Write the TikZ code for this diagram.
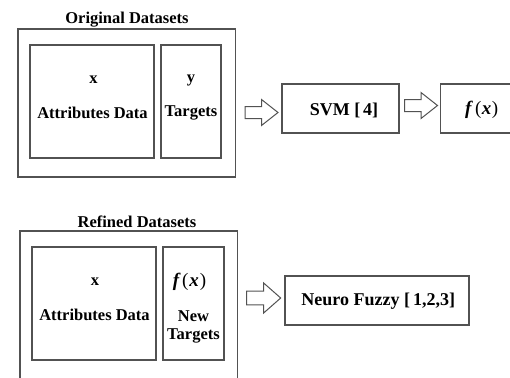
\documentclass[tikz,border=0pt]{standalone}
\usepackage{fontspec}
\setmainfont{Liberation Serif}
\begin{document}
\begin{tikzpicture}[x=1pt,y=-1pt,
  boxline/.style={draw=black!68,line width=1.3pt},
  frame/.style={boxline,rectangle,inner sep=0pt,fill=white},
  lbl/.style={inner sep=0pt,font=\fontsize{16.5}{18}\selectfont\bfseries},
  blbl/.style={inner sep=0pt,font=\fontsize{18}{20}\selectfont\bfseries},
  barrow/.pic={\draw[draw=black!68,line width=1pt,fill=white,line join=miter]
     (-16.5,-6) -- (0,-6) -- (0,-13) -- (16.5,0) -- (0,13) -- (0,6) -- (-16.5,6) -- cycle;}
]
\useasboundingbox (0,0) rectangle (510,377);
\clip (0,0) rectangle (510,377);
% ---------- top ----------
\node[lbl] (ttl1) at (127,20) {Original Datasets};
\node[frame,minimum width=217.5pt,minimum height=148pt] (out1) at (126.75,103) {};
\node[frame,minimum width=124pt,minimum height=113pt] (attr1) at (92,101.5) {};
\node[frame,minimum width=60pt,minimum height=113pt] (tgt1) at (191,101.5) {};
\node[lbl] (x1) at (93.5,80) {x};
\node[lbl] (ad1) at (92.5,113) {Attributes Data};
\node[lbl] (y1) at (191,80) {y};
\node[lbl] (tg1) at (191,113) {Targets};
\pic (ar1) at (261.5,112.5) {barrow};
\node[frame,minimum width=117pt,minimum height=49pt] (svm) at (340.5,108.5) {};
\node[blbl] (svmt) at (344,110) {SVM [\,4]};
\pic (ar2) at (421,105.5) {barrow};
\node[frame,minimum width=80pt,minimum height=49pt] (fx) at (480.7,108.5) {};
\node[blbl] (fxt) at (481.7,110) {\fontsize{19}{21}\selectfont\textit{f}\kern2pt\textmd{(}\kern0.5pt\textit{x}\kern0.5pt\textmd{)}};
% ---------- bottom ----------
\node[lbl] (ttl2) at (137,222) {Refined Datasets};
\node[frame,minimum width=217.7pt,minimum height=180pt] (out2) at (128.85,321) {};
\node[frame,minimum width=124pt,minimum height=113pt] (attr2) at (94,303.5) {};
\node[frame,minimum width=61pt,minimum height=113pt] (tgt2) at (193.5,303.5) {};
\node[lbl] (x2) at (95,282) {x};
\node[lbl] (ad2) at (94.5,315) {Attributes Data};
\node[lbl] (fx2) at (189.5,282) {\fontsize{19}{21}\selectfont\textit{f}\kern1.5pt\textmd{(}\kern0.8pt\textit{x}\kern1pt\textmd{)}};
\node[lbl] (nw2) at (193.5,316) {New};
\node[lbl] (tg2) at (193.5,336) {Targets};
\pic[yscale=1.15,xscale=1.03] (ar3) at (263.7,298) {barrow};
\node[frame,minimum width=184pt,minimum height=49pt] (nf) at (377,300.5) {};
\node[blbl] (nft) at (378.3,301.5) {Neuro Fuzzy [\,1,2,3]};
\end{tikzpicture}
\end{document}
